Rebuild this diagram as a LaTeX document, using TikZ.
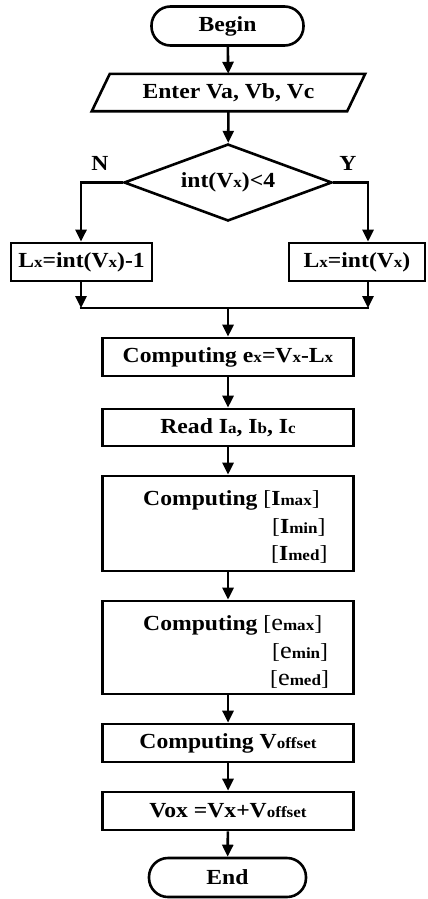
\documentclass[tikz,border=0pt]{standalone}
\usepackage{fontspec}
\setmainfont[FakeStretch=1.1]{Liberation Serif}
\usetikzlibrary{shapes.geometric,arrows.meta,calc}
\newcommand{\sbs}[1]{{\fontsize{15.5}{15.5}\selectfont #1}}
\newcommand{\brk}[1]{{\mdseries #1}}
\begin{document}
\begin{tikzpicture}[x=1pt,y=-1pt,
  every node/.style={font=\fontsize{21.5}{25}\selectfont\bfseries, inner sep=0pt},
  ln/.style={line width=2.6pt},
  arr/.style={ln, -{Triangle[length=12pt,width=11pt]}},
  box/.style={draw, ln, rectangle},
  mbox/.style={box, minimum width=251pt},
  term/.style={draw, ln, rectangle, rounded corners=19pt, minimum height=39pt},
  lbl/.style={font=\fontsize{21.5}{25}\selectfont\bfseries}]
\useasboundingbox (0,0) rectangle (428,899);
% terminals and boxes
\node[term, minimum width=152pt] (begin) at (227.5,26) {Begin};
\node[minimum width=237pt, minimum height=37pt] (enter) at (228.5,92.5) {Enter Va, Vb, Vc};
\draw[ln, line join=miter] (enter.north west) -- ($(enter.north east)+(18,0)$) -- (enter.south east) -- ($(enter.south west)+(-18,0)$) -- cycle;
\node[draw, ln, diamond, aspect=2.6, minimum width=208pt, minimum height=77pt] (dia) at (228,182.5) {int(V\sbs{x})<4};
\node[lbl] (nlab) at (100,163) {N};
\node[lbl] (ylab) at (348,163) {Y};
\node[box, minimum width=141pt, minimum height=38pt] (lbox) at (81.5,262) {L\sbs{x}=int(V\sbs{x})-1};
\node[box, minimum width=136pt, minimum height=38pt] (rbox) at (357,262) {L\sbs{x}=int(V\sbs{x})};
\node[mbox, minimum height=38pt] (b1) at (228,357) {Computing e\sbs{x}=V\sbs{x}-L\sbs{x}};
\node[mbox, minimum height=37pt] (b2) at (228,427.5) {Read I\sbs{a}, I\sbs{b}, I\sbs{c}};
\node[mbox, minimum height=95pt] (b3) at (228,523.5) {};
\node[mbox, minimum height=93pt] (b4) at (228,647.5) {};
\node[mbox, minimum height=38pt] (b5) at (228,743) {Computing V\sbs{offset}};
\node[mbox, minimum height=38pt] (b6) at (228,811) {Vox =Vx+V\sbs{offset}};
\node[term, minimum width=157pt] (end) at (227.5,877.5) {End};
% multi-line texts
\node[anchor=base west] (t31) at (143,505) {Computing \brk{[}I\sbs{max}\brk{]}};
\node[anchor=base west] (t32) at (272,533) {\brk{[}I\sbs{min}\brk{]}};
\node[anchor=base west] (t33) at (271,560) {\brk{[}I\sbs{med}\brk{]}};
\node[anchor=base west] (t41) at (143,630) {Computing \brk{[}{\mdseries\fontsize{24}{24}\selectfont e}\sbs{max}\brk{]}};
\node[anchor=base west] (t42) at (272,658) {\brk{[}{\mdseries\fontsize{24}{24}\selectfont e}\sbs{min}\brk{]}};
\node[anchor=base west] (t43) at (270,685) {\brk{[}{\mdseries\fontsize{24}{24}\selectfont e}\sbs{med}\brk{]}};
% connectors
\coordinate (nl) at (81,182.5);
\coordinate (yr) at (368,182.5);
\coordinate (ml) at (81,308);
\coordinate (mr) at (368,308);
\coordinate (mc) at (228,308);
\draw[arr] (begin) -- (enter);
\draw[arr] (enter) -- (dia);
\draw[arr] (dia.west) -- (nl) -- (nl |- lbox.north);
\draw[arr] (dia.east) -- (yr) -- (yr |- rbox.north);
\draw[arr] (nl |- lbox.south) -- (ml);
\draw[arr] (yr |- rbox.south) -- (mr);
\draw[ln] ([xshift=-1.3pt]ml) -- ([xshift=1.3pt]mr);
\draw[arr] (mc) -- (b1);
\draw[arr] (b1) -- (b2);
\draw[arr] (b2) -- (b3);
\draw[arr] (b3) -- (b4);
\draw[arr] (b4) -- (b5);
\draw[arr] (b5) -- (b6);
\draw[arr] (b6) -- (end);
\end{tikzpicture}
\end{document}
